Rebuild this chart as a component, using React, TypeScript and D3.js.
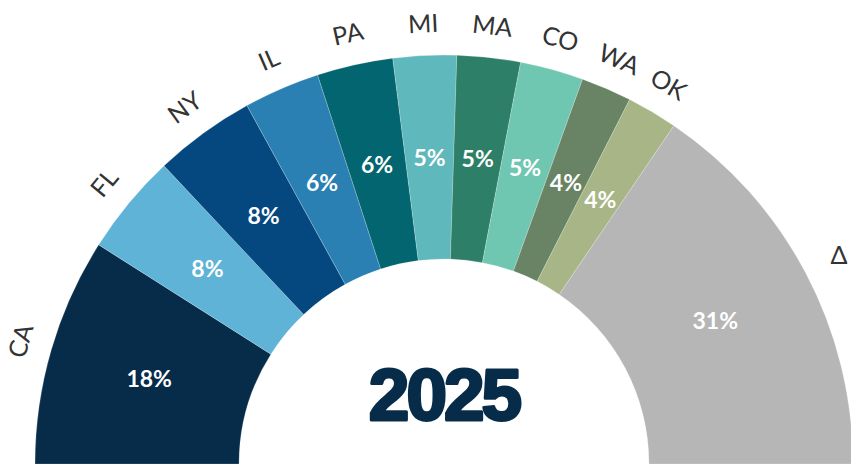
import React from "react";
import * as d3 from "d3";

const states = ["CA", "FL", "NY", "IL", "PA", "MI", "MA", "CO", "WA", "OK", "Δ"];
const shares = [18, 8, 8, 6, 6, 5, 5, 5, 4, 4, 31];
const colors = [
  "#072c4a", "#5fb3d6", "#04487f", "#2a80b3", "#03656f", "#5fb8bb",
  "#2e7f68", "#6fc6b1", "#688464", "#a8b586", "#b6b6b6",
];
const yearLabel = "2025";

const width = 851;
const height = 464;
const cx = 444;
const cy = 464;
const outerR = 409;
const innerR = 205;
const labelR = 441;

export default function App() {
  const data = states.map((s, i) => ({ key: s, value: shares[i], color: colors[i] }));

  const pie = d3
    .pie<any>()
    .value((d) => d.value)
    .sort(null)
    .startAngle(-Math.PI / 2)
    .endAngle(Math.PI / 2);
  const arcs = pie(data);

  const arc = d3.arc<any>().innerRadius(innerR).outerRadius(outerR);
  const midR = (innerR + outerR) / 2;

  return (
    <svg
      width={width}
      height={height}
      style={{ position: "absolute", left: 0, top: 0, display: "block" }}
    >
      <g transform={`translate(${cx},${cy})`}>
        {arcs.map((a) => (
          <path
            key={a.data.key}
            d={arc(a) || ""}
            fill={a.data.color}
            stroke="#ffffff"
            strokeOpacity={0.35}
            strokeWidth={0.6}
          />
        ))}
        {arcs.map((a) => {
          const m = (a.startAngle + a.endAngle) / 2;
          const x = midR * Math.sin(m);
          const y = -midR * Math.cos(m);
          return (
            <text
              key={"p" + a.data.key}
              x={x}
              y={y}
              dy="0.36em"
              textAnchor="middle"
              fill="#ffffff"
              fontFamily="Lato, 'Open Sans', sans-serif"
              fontWeight={700}
              fontSize={23}
            >
              {a.data.value}%
            </text>
          );
        })}
        {arcs.map((a) => {
          const m = (a.startAngle + a.endAngle) / 2;
          const r = a.data.key === "Δ" ? labelR + 6 : labelR;
          const x = r * Math.sin(m);
          const y = -r * Math.cos(m);
          // the delta glyph stays upright, state codes follow the arc
          const deg = a.data.key === "Δ" ? 0 : (m * 180) / Math.PI;
          return (
            <text
              key={"l" + a.data.key}
              transform={`translate(${x},${y}) rotate(${deg})`}
              dy="0.36em"
              textAnchor="middle"
              fill="#333333"
              fontFamily="Lato, 'Open Sans', sans-serif"
              fontWeight={400}
              fontSize={25}
            >
              {a.data.key}
            </text>
          );
        })}
        <text
          x={0}
          y={-44}
          textAnchor="middle"
          fill="#072c4a"
          stroke="#072c4a"
          strokeWidth={3}
          strokeLinejoin="round"
          fontFamily="'Liberation Sans', Arial, sans-serif"
          fontWeight={700}
          fontSize={73}
          letterSpacing={-3}
        >
          {yearLabel}
        </text>
      </g>
    </svg>
  );
}
